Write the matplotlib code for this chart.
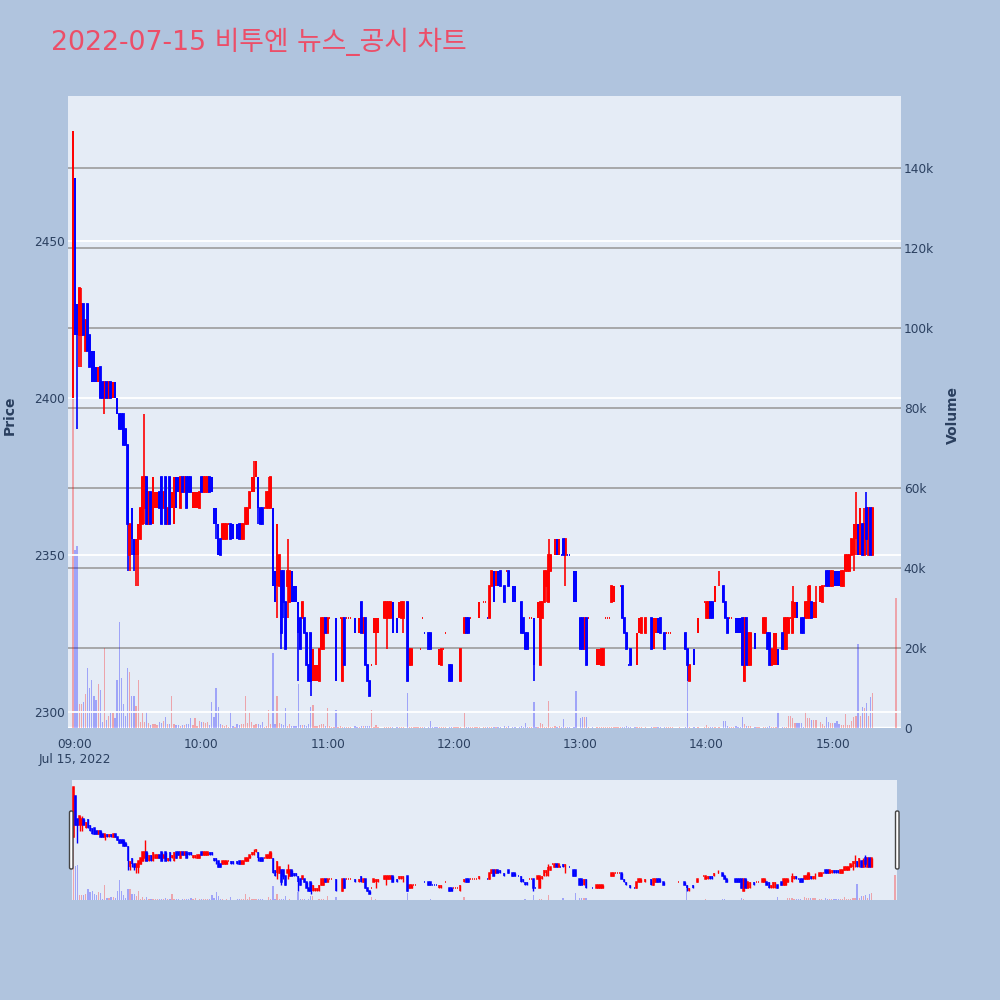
import numpy as np
import matplotlib
matplotlib.use("Agg")
import matplotlib.pyplot as plt
from matplotlib.patches import FancyBboxPatch

plt.rcParams['font.family'] = ['DejaVu Sans', 'Noto Sans CJK KR']

title = "2022-07-15 비투엔 뉴스_공시 차트"

# minutes after 09:00 (missing minutes = no trade)
minute = [
    -1, 0, 1, 2, 3, 4, 5, 6, 7, 8,
    9, 10, 11, 12, 13, 14, 15, 16, 17, 18,
    19, 20, 21, 22, 23, 24, 25, 26, 27, 28,
    29, 30, 31, 32, 33, 34, 35, 36, 37, 38,
    39, 40, 41, 42, 43, 44, 45, 46, 47, 48,
    49, 50, 51, 52, 53, 54, 55, 56, 57, 58,
    59, 60, 61, 62, 63, 64, 65, 66, 67, 68,
    69, 70, 71, 72, 73, 74, 75, 76, 77, 78,
    79, 80, 81, 82, 83, 84, 85, 86, 87, 88,
    89, 90, 91, 92, 93, 94, 95, 96, 97, 98,
    99, 100, 101, 102, 103, 104, 105, 106, 107, 108,
    109, 110, 111, 112, 113, 114, 115, 116, 117, 118,
    119, 120, 121, 122, 123, 124, 125, 126, 127, 128,
    129, 130, 131, 133, 134, 135, 136, 137, 138, 139,
    140, 141, 142, 143, 144, 147, 148, 149, 150, 151,
    153, 154, 155, 156, 158, 159, 160, 161, 162, 163,
    164, 165, 166, 168, 169, 170, 171, 172, 173, 174,
    175, 176, 178, 179, 180, 181, 182, 183, 185, 186,
    187, 188, 189, 190, 191, 192, 194, 195, 196, 197,
    198, 199, 200, 201, 202, 204, 205, 206, 208, 209,
    211, 212, 213, 214, 215, 216, 217, 218, 219, 220,
    221, 222, 223, 224, 225, 226, 227, 228, 229, 230,
    231, 232, 233, 234, 235, 237, 238, 240, 241, 242,
    243, 244, 246, 248, 249, 250, 251, 252, 253, 254,
    255, 256, 257, 258, 259, 260, 261, 262, 263, 264,
    266, 267, 268, 269, 271, 274, 275, 276, 277, 278,
    280, 281, 282, 283, 284, 287, 290, 291, 292, 294,
    296, 299, 300, 301, 302, 303, 304, 306, 308, 309,
    310, 311, 312, 313, 314, 315, 316, 317, 318, 319,
    320, 321, 323, 324, 325, 327, 328, 329, 330, 331,
    332, 333, 334, 336, 337, 338, 339, 340, 341, 342,
    343, 344, 345, 346, 347, 348, 349, 350, 351, 352,
    354, 355, 356, 357, 358, 359, 360, 361, 362, 363,
    364, 365, 366, 367, 368, 369, 370, 371, 372, 373,
    374, 375, 376, 377, 378, 379, 390,
]

opens = [
    2400, 2470, 2430, 2420, 2420, 2430, 2415, 2430, 2420, 2415,
    2415, 2410, 2405, 2410, 2405, 2400, 2405, 2400, 2405, 2400,
    2405, 2400, 2395, 2395, 2395, 2390, 2385, 2350, 2365, 2355,
    2350, 2350, 2355, 2360, 2365, 2375, 2360, 2370, 2360, 2365,
    2365, 2370, 2375, 2365, 2375, 2360, 2375, 2365, 2360, 2375,
    2375, 2365, 2375, 2370, 2375, 2375, 2375, 2365, 2365, 2365,
    2365, 2375, 2370, 2370, 2370, 2375, 2375, 2365, 2365, 2360,
    2355, 2355, 2355, 2355, 2360, 2360, 2360, 2360, 2360, 2360,
    2355, 2355, 2360, 2360, 2365, 2370, 2370, 2375, 2375, 2365,
    2365, 2365, 2365, 2365, 2365, 2365, 2345, 2340, 2340, 2345,
    2345, 2335, 2340, 2335, 2345, 2340, 2340, 2335, 2330, 2330,
    2330, 2325, 2315, 2325, 2310, 2310, 2310, 2310, 2320, 2320,
    2330, 2325, 2330, 2330, 2330, 2330, 2330, 2330, 2310, 2330,
    2330, 2330, 2330, 2330, 2325, 2325, 2335, 2325, 2330, 2315,
    2310, 2315, 2325, 2325, 2325, 2330, 2330, 2330, 2330, 2335,
    2330, 2330, 2330, 2330, 2335, 2315, 2315, 2320, 2320, 2320,
    2320, 2330, 2325, 2325, 2325, 2320, 2320, 2320, 2315, 2315,
    2320, 2325, 2315, 2315, 2315, 2315, 2315, 2310, 2325, 2330,
    2330, 2330, 2330, 2330, 2330, 2330, 2335, 2335, 2330, 2330,
    2340, 2345, 2340, 2345, 2345, 2340, 2345, 2345, 2340, 2340,
    2335, 2335, 2330, 2325, 2325, 2330, 2330, 2330, 2315, 2330,
    2315, 2330, 2335, 2340, 2335, 2345, 2355, 2350, 2355, 2350,
    2350, 2355, 2350, 2350, 2350, 2345, 2345, 2330, 2330, 2320,
    2330, 2330, 2315, 2315, 2315, 2315, 2315, 2330, 2330, 2330,
    2335, 2335, 2340, 2340, 2340, 2340, 2330, 2325, 2315, 2320,
    2315, 2315, 2325, 2325, 2325, 2330, 2320, 2325, 2330, 2330,
    2325, 2325, 2325, 2325, 2325, 2325, 2325, 2320, 2310, 2320,
    2325, 2335, 2330, 2330, 2335, 2335, 2335, 2340, 2340, 2335,
    2330, 2330, 2330, 2330, 2330, 2330, 2330, 2330, 2310, 2330,
    2315, 2315, 2325, 2325, 2325, 2325, 2325, 2325, 2325, 2315,
    2315, 2315, 2320, 2325, 2320, 2320, 2325, 2330, 2325, 2330,
    2335, 2330, 2330, 2330, 2330, 2330, 2330, 2335, 2330, 2330,
    2335, 2335, 2340, 2345, 2345, 2340, 2340, 2345, 2345, 2345,
    2340, 2340, 2345, 2345, 2345, 2350, 2350, 2355, 2360, 2350,
    2360, 2350, 2365, 2350, 2365, 2350, 2395,
]

highs = [
    2485, 2470, 2430, 2435, 2435, 2430, 2425, 2430, 2420, 2415,
    2415, 2410, 2410, 2410, 2405, 2405, 2405, 2405, 2405, 2405,
    2405, 2400, 2395, 2395, 2395, 2390, 2385, 2360, 2365, 2355,
    2355, 2360, 2365, 2375, 2395, 2375, 2370, 2370, 2375, 2370,
    2370, 2370, 2375, 2370, 2375, 2365, 2375, 2370, 2375, 2375,
    2375, 2375, 2375, 2375, 2375, 2375, 2375, 2370, 2370, 2370,
    2370, 2375, 2375, 2375, 2375, 2375, 2375, 2365, 2365, 2360,
    2355, 2360, 2360, 2360, 2360, 2360, 2360, 2360, 2360, 2360,
    2360, 2360, 2365, 2365, 2370, 2375, 2380, 2380, 2375, 2365,
    2365, 2365, 2370, 2375, 2375, 2365, 2345, 2360, 2350, 2345,
    2345, 2335, 2355, 2345, 2345, 2340, 2340, 2335, 2330, 2335,
    2330, 2325, 2315, 2325, 2320, 2315, 2315, 2320, 2330, 2330,
    2330, 2330, 2330, 2330, 2330, 2330, 2330, 2330, 2330, 2330,
    2330, 2330, 2330, 2330, 2325, 2330, 2335, 2330, 2330, 2315,
    2310, 2315, 2330, 2330, 2330, 2335, 2335, 2335, 2335, 2335,
    2330, 2335, 2335, 2335, 2335, 2320, 2320, 2320, 2320, 2320,
    2320, 2330, 2325, 2325, 2325, 2320, 2320, 2320, 2320, 2320,
    2320, 2325, 2315, 2315, 2315, 2315, 2315, 2320, 2330, 2330,
    2330, 2330, 2330, 2330, 2330, 2335, 2335, 2335, 2330, 2340,
    2345, 2345, 2345, 2345, 2345, 2340, 2345, 2345, 2340, 2340,
    2335, 2335, 2330, 2325, 2325, 2330, 2330, 2330, 2315, 2335,
    2335, 2335, 2345, 2345, 2355, 2350, 2355, 2355, 2355, 2355,
    2350, 2355, 2355, 2350, 2350, 2345, 2345, 2330, 2330, 2330,
    2330, 2330, 2315, 2320, 2320, 2320, 2320, 2330, 2330, 2330,
    2340, 2340, 2340, 2340, 2340, 2340, 2330, 2325, 2315, 2320,
    2315, 2325, 2330, 2330, 2330, 2330, 2330, 2330, 2330, 2330,
    2325, 2325, 2325, 2325, 2325, 2325, 2325, 2320, 2315, 2320,
    2330, 2335, 2335, 2335, 2335, 2335, 2340, 2345, 2340, 2335,
    2330, 2330, 2330, 2330, 2330, 2330, 2330, 2330, 2330, 2330,
    2325, 2325, 2325, 2325, 2325, 2330, 2330, 2325, 2325, 2320,
    2325, 2325, 2320, 2325, 2330, 2330, 2330, 2330, 2340, 2335,
    2335, 2330, 2330, 2330, 2335, 2340, 2340, 2335, 2335, 2340,
    2340, 2340, 2340, 2345, 2345, 2345, 2345, 2345, 2345, 2345,
    2345, 2345, 2350, 2350, 2350, 2355, 2360, 2370, 2360, 2365,
    2360, 2365, 2370, 2365, 2365, 2365, 2395,
]

lows = [
    2400, 2420, 2390, 2410, 2410, 2420, 2415, 2415, 2410, 2405,
    2405, 2405, 2405, 2400, 2400, 2395, 2400, 2400, 2400, 2400,
    2400, 2395, 2390, 2390, 2385, 2385, 2345, 2345, 2350, 2345,
    2340, 2340, 2355, 2360, 2360, 2360, 2360, 2360, 2360, 2365,
    2365, 2365, 2360, 2365, 2360, 2360, 2360, 2365, 2360, 2365,
    2370, 2365, 2370, 2370, 2365, 2370, 2370, 2365, 2365, 2365,
    2365, 2370, 2370, 2370, 2370, 2370, 2370, 2360, 2355, 2350,
    2350, 2355, 2355, 2355, 2360, 2355, 2355, 2360, 2355, 2355,
    2355, 2355, 2360, 2360, 2365, 2370, 2370, 2375, 2360, 2360,
    2360, 2365, 2365, 2365, 2365, 2340, 2335, 2330, 2340, 2320,
    2330, 2320, 2330, 2335, 2335, 2335, 2335, 2310, 2320, 2330,
    2325, 2315, 2310, 2305, 2310, 2310, 2310, 2310, 2320, 2320,
    2325, 2325, 2330, 2330, 2330, 2310, 2330, 2330, 2310, 2315,
    2330, 2330, 2330, 2325, 2325, 2325, 2325, 2325, 2315, 2310,
    2305, 2315, 2325, 2315, 2325, 2330, 2320, 2330, 2330, 2325,
    2325, 2330, 2330, 2325, 2310, 2315, 2315, 2320, 2320, 2320,
    2320, 2330, 2325, 2320, 2320, 2320, 2320, 2320, 2315, 2315,
    2320, 2325, 2310, 2310, 2315, 2315, 2315, 2310, 2325, 2325,
    2325, 2330, 2330, 2330, 2330, 2330, 2335, 2335, 2330, 2330,
    2340, 2335, 2340, 2340, 2340, 2335, 2345, 2340, 2335, 2335,
    2335, 2325, 2325, 2320, 2320, 2330, 2330, 2310, 2315, 2330,
    2315, 2330, 2335, 2335, 2335, 2345, 2355, 2350, 2350, 2350,
    2350, 2350, 2340, 2350, 2350, 2335, 2335, 2320, 2320, 2320,
    2315, 2330, 2315, 2315, 2315, 2315, 2315, 2330, 2330, 2330,
    2335, 2335, 2340, 2340, 2340, 2330, 2325, 2320, 2315, 2315,
    2315, 2315, 2325, 2325, 2325, 2320, 2320, 2325, 2325, 2325,
    2320, 2325, 2325, 2325, 2325, 2325, 2320, 2310, 2310, 2315,
    2325, 2335, 2330, 2330, 2330, 2330, 2335, 2340, 2335, 2330,
    2325, 2330, 2330, 2330, 2325, 2325, 2325, 2315, 2310, 2315,
    2315, 2315, 2320, 2325, 2325, 2325, 2325, 2320, 2315, 2315,
    2315, 2315, 2315, 2320, 2320, 2320, 2325, 2330, 2325, 2330,
    2330, 2330, 2325, 2325, 2330, 2330, 2330, 2330, 2330, 2330,
    2335, 2335, 2340, 2340, 2340, 2340, 2340, 2340, 2340, 2340,
    2340, 2340, 2345, 2345, 2345, 2350, 2345, 2350, 2350, 2350,
    2350, 2350, 2350, 2350, 2350, 2350, 2395,
]

closes = [
    2485, 2420, 2420, 2435, 2430, 2420, 2425, 2415, 2410, 2405,
    2405, 2405, 2410, 2400, 2400, 2405, 2400, 2405, 2400, 2405,
    2400, 2395, 2390, 2390, 2385, 2385, 2360, 2360, 2355, 2350,
    2355, 2360, 2365, 2375, 2375, 2360, 2370, 2360, 2375, 2370,
    2370, 2365, 2360, 2370, 2360, 2365, 2360, 2370, 2375, 2365,
    2370, 2375, 2370, 2375, 2365, 2370, 2370, 2370, 2370, 2370,
    2370, 2370, 2375, 2375, 2375, 2370, 2370, 2360, 2360, 2350,
    2350, 2360, 2360, 2360, 2360, 2355, 2355, 2360, 2355, 2355,
    2360, 2360, 2365, 2365, 2370, 2375, 2375, 2380, 2365, 2360,
    2360, 2365, 2370, 2370, 2375, 2340, 2335, 2360, 2350, 2325,
    2335, 2320, 2345, 2345, 2335, 2335, 2335, 2325, 2320, 2335,
    2325, 2315, 2310, 2310, 2320, 2315, 2315, 2320, 2330, 2330,
    2325, 2330, 2330, 2330, 2330, 2310, 2330, 2330, 2330, 2315,
    2330, 2330, 2330, 2325, 2325, 2330, 2325, 2330, 2315, 2310,
    2305, 2315, 2330, 2330, 2330, 2335, 2335, 2335, 2335, 2325,
    2325, 2335, 2335, 2335, 2310, 2320, 2320, 2320, 2320, 2320,
    2320, 2330, 2325, 2320, 2320, 2320, 2320, 2320, 2320, 2320,
    2320, 2325, 2310, 2310, 2315, 2315, 2315, 2320, 2330, 2325,
    2325, 2330, 2330, 2330, 2330, 2335, 2335, 2335, 2330, 2340,
    2345, 2335, 2345, 2340, 2340, 2335, 2345, 2340, 2335, 2335,
    2335, 2325, 2325, 2320, 2320, 2330, 2330, 2315, 2315, 2335,
    2335, 2335, 2345, 2345, 2350, 2350, 2355, 2355, 2350, 2355,
    2350, 2350, 2355, 2350, 2350, 2335, 2335, 2320, 2320, 2330,
    2315, 2330, 2315, 2320, 2320, 2320, 2320, 2330, 2330, 2330,
    2340, 2340, 2340, 2340, 2340, 2330, 2325, 2320, 2315, 2315,
    2315, 2325, 2330, 2330, 2330, 2320, 2330, 2330, 2325, 2325,
    2320, 2325, 2325, 2325, 2325, 2325, 2320, 2315, 2315, 2315,
    2330, 2335, 2335, 2335, 2330, 2330, 2340, 2340, 2335, 2330,
    2325, 2330, 2330, 2330, 2325, 2325, 2325, 2315, 2330, 2315,
    2325, 2325, 2320, 2325, 2325, 2330, 2330, 2320, 2315, 2320,
    2325, 2325, 2315, 2320, 2330, 2330, 2330, 2330, 2335, 2335,
    2330, 2330, 2325, 2325, 2335, 2335, 2340, 2330, 2335, 2335,
    2340, 2340, 2340, 2340, 2340, 2345, 2345, 2340, 2340, 2340,
    2345, 2345, 2350, 2350, 2350, 2355, 2360, 2360, 2350, 2365,
    2350, 2360, 2355, 2365, 2350, 2365, 2395,
]

volumes = [
    83000, 44500, 45500, 6000, 6000, 6500, 8500, 15000, 10000, 12000,
    8000, 7000, 11000, 9500, 1500, 20000, 2000, 3000, 3700, 3700,
    2500, 12000, 26500, 12500, 6000, 3000, 15000, 14000, 8000, 8000,
    5500, 12000, 1500, 3700, 1500, 4000, 1200, 800, 1000, 900,
    700, 1500, 1200, 1800, 2800, 900, 1000, 8000, 1000, 700,
    800, 600, 800, 700, 1000, 900, 2400, 700, 2400, 600,
    1800, 1500, 1600, 1200, 1600, 800, 6500, 2800, 10000, 5300,
    1000, 700, 600, 700, 300, 4200, 500, 300, 900, 800,
    1000, 900, 8000, 1200, 4000, 1500, 700, 1000, 900, 800,
    1500, 300, 500, 4500, 900, 18700, 1000, 8000, 1200, 1000,
    800, 5000, 600, 1000, 500, 600, 500, 11000, 700, 800,
    700, 500, 900, 5300, 5800, 500, 600, 800, 1000, 900,
    600, 5000, 400, 300, 300, 4500, 300, 400, 300, 300,
    200, 300, 200, 500, 200, 300, 500, 400, 600, 400,
    500, 4500, 300, 800, 300, 200, 300, 300, 200, 200,
    200, 300, 300, 200, 8700, 300, 200, 200, 200, 200,
    200, 300, 200, 300, 1800, 300, 200, 300, 300, 200,
    300, 300, 300, 300, 300, 200, 200, 300, 3700, 300,
    300, 200, 200, 200, 300, 300, 200, 200, 200, 300,
    300, 300, 300, 300, 200, 500, 200, 500, 300, 300,
    200, 400, 300, 1300, 300, 200, 200, 6500, 300, 300,
    1300, 1000, 300, 300, 6800, 300, 200, 500, 300, 400,
    200, 2200, 300, 200, 200, 300, 9300, 2400, 2800, 2800,
    2800, 300, 200, 300, 300, 200, 200, 200, 200, 200,
    300, 200, 200, 200, 200, 200, 200, 500, 200, 300,
    200, 200, 200, 300, 200, 300, 200, 200, 300, 200,
    300, 200, 200, 200, 200, 200, 200, 19000, 300, 300,
    300, 200, 800, 300, 300, 200, 300, 300, 1800, 1800,
    500, 300, 300, 200, 500, 300, 200, 2800, 1000, 600,
    500, 400, 300, 200, 200, 300, 300, 300, 500, 300,
    300, 300, 4200, 300, 200, 300, 3000, 3000, 2500, 1200,
    1200, 1200, 1200, 300, 4200, 2400, 2400, 2000, 2000, 2000,
    1500, 1000, 500, 2800, 1500, 1200, 1200, 1200, 1800, 1000,
    800, 800, 3400, 800, 800, 1800, 2800, 3000, 21000, 3100,
    5300, 4900, 6200, 3000, 7800, 8800, 32500,
]

tick_minutes = [0, 60, 120, 180, 240, 300, 360]
tick_labels = ["09:00\nJul 15, 2022", "10:00", "11:00", "12:00", "13:00", "14:00", "15:00"]
price_ticks = [2300, 2350, 2400, 2450]
vol_ticks = [0, 20000, 40000, 60000, 80000, 100000, 120000, 140000]
vol_tick_labels = ["0", "20k", "40k", "60k", "80k", "100k", "120k", "140k"]

x = np.array(minute, dtype=float)
o = np.array(opens, dtype=float)
h = np.array(highs, dtype=float)
l = np.array(lows, dtype=float)
c = np.array(closes, dtype=float)
v = np.array(volumes, dtype=float)
assert len(x) == len(o) == len(h) == len(l) == len(c) == len(v)

# candle direction like plotly: flat candles follow the move from the previous close
up = []
prev_c = None
last = True
for oi, ci in zip(o, c):
    if ci > oi:
        d = True
    elif ci < oi:
        d = False
    elif prev_c is not None and ci != prev_c:
        d = ci > prev_c
    else:
        d = last
    up.append(d)
    last = d
    prev_c = ci
up = np.array(up)

BG = '#E5ECF6'
FIG_BG = '#B0C4DE'
TXT = '#2a3f5f'
RED = '#ff0000'
BLUE = '#0000ff'


def draw_candles(ax, lw_body, lw_wick):
    for flag, col in [(True, RED), (False, BLUE)]:
        s = up == flag
        ax.vlines(x[s], l[s], h[s], color=col, linewidth=lw_wick, zorder=3)
        ax.bar(x[s], (c - o)[s], bottom=o[s], width=0.3, color=col,
               edgecolor=col, linewidth=lw_body, zorder=4)


def draw_volume(ax):
    ax.bar(x[up], v[up], width=0.6, color=(1, 0, 0, 0.3), linewidth=0, zorder=2)
    ax.bar(x[~up], v[~up], width=0.6, color=(0, 0, 1, 0.3), linewidth=0, zorder=2)


fig = plt.figure(figsize=(10, 10), dpi=100)
fig.patch.set_facecolor(FIG_BG)

# main chart
ax = fig.add_axes([0.068, 0.272, 0.833, 0.632])
axv = ax.twinx()
ax.set_zorder(axv.get_zorder() + 1)
ax.patch.set_visible(False)
axv.patch.set_visible(True)
axv.patch.set_facecolor(BG)

draw_volume(axv)
draw_candles(ax, 1.3, 1.2)

ax.set_xlim(-3.33, 392.4)
ax.set_ylim(2294.9, 2496.2)
axv.set_ylim(0, 158000)

ax.set_yticks(price_ticks)
ax.set_yticklabels([str(t) for t in price_ticks])
axv.set_yticks(vol_ticks)
axv.set_yticklabels(vol_tick_labels)
ax.set_xticks(tick_minutes)
ax.set_xticklabels(tick_labels)

ax.grid(axis='y', color='white', linewidth=1.3)
ax.grid(axis='x', visible=False)
axv.grid(axis='y', color='#9c9c9c', linewidth=1.2)
axv.axhline(0, color='white', linewidth=2.5, zorder=1)
axv.set_axisbelow(True)

for a in (ax, axv):
    for sp in a.spines.values():
        sp.set_visible(False)
    a.tick_params(length=0, labelsize=8.7, labelcolor=TXT)
ax.tick_params(axis='y', pad=2)
axv.tick_params(axis='y', pad=2)
ax.tick_params(axis='x', pad=7)

fig.text(0.010, 0.585, 'Price', rotation=90, ha='center', va='center',
         fontsize=10, fontweight='bold', color=TXT)
fig.text(0.953, 0.585, 'Volume', rotation=90, ha='center', va='center',
         fontsize=10, fontweight='bold', color=TXT)

fig.text(0.051, 0.950, title, fontsize=19.3, color='#ec4e68', ha='left', va='baseline')

# range slider
axs = fig.add_axes([0.072, 0.100, 0.825, 0.120])
axs.set_facecolor(BG)
axsv = axs.twinx()
axs.set_zorder(axsv.get_zorder() + 1)
axs.patch.set_visible(False)
axsv.patch.set_visible(True)
axsv.patch.set_facecolor(BG)
draw_volume(axsv)
draw_candles(axs, 1.1, 1.0)
axs.set_xlim(-1.6, 391.0)
axs.set_ylim(2294.9, 2496.2)
axsv.set_ylim(0, 158000)
for a in (axs, axsv):
    a.set_xticks([])
    a.set_yticks([])
    for sp in a.spines.values():
        sp.set_visible(False)

for hx in (0.0695, 0.8955):
    fig.patches.append(FancyBboxPatch((hx, 0.131), 0.0035, 0.058,
                                      boxstyle='round,pad=0,rounding_size=0.0015',
                                      transform=fig.transFigure, facecolor='white',
                                      edgecolor='#444444', linewidth=1.0, zorder=10))

fig.savefig('out.png', dpi=100, facecolor=FIG_BG)
